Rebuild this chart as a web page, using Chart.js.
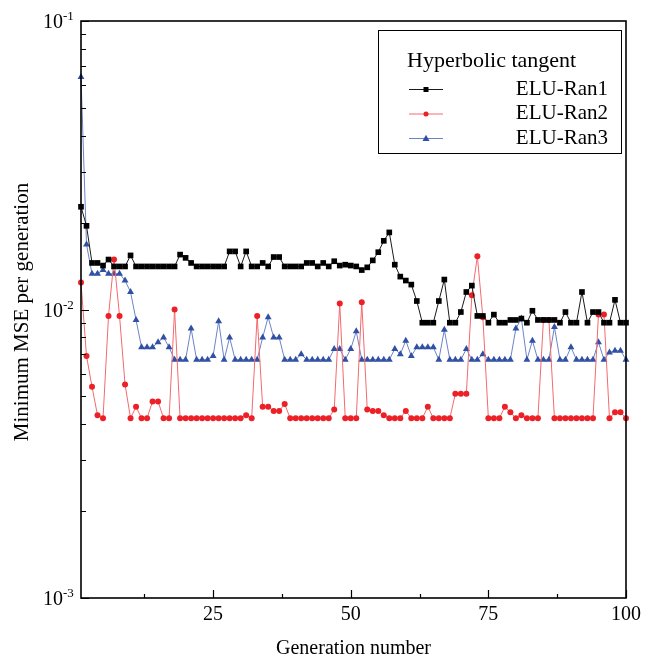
<!DOCTYPE html>
<html>
<head>
<meta charset="utf-8">
<script src="https://cdn.jsdelivr.net/npm/chart.js@4"></script>
<style>
    body { margin: 0; background: #fff; }
    canvas { display: block; }
</style>
</head>
<body>
<canvas id="mseChart" width="653" height="659"></canvas>
<script>
const generations = Array.from({length: 100}, (_, i) => i + 1);

const eluRan1 = [
    0.0227, 0.0195, 0.0145, 0.0145, 0.0142, 0.0149, 0.0141, 0.0141, 0.0141, 0.0154,
    0.0141, 0.0141, 0.0141, 0.0141, 0.0141, 0.0141, 0.0141, 0.0141, 0.0155, 0.0151,
    0.0145, 0.0141, 0.0141, 0.0141, 0.0141, 0.0141, 0.0141, 0.0159, 0.0159, 0.0141,
    0.0159, 0.0141, 0.0141, 0.0145, 0.0141, 0.0152, 0.0152, 0.0141, 0.0141, 0.0141,
    0.0141, 0.0145, 0.0145, 0.0141, 0.0145, 0.0141, 0.0147, 0.0142, 0.0143, 0.0142,
    0.0141, 0.0137, 0.0140, 0.0148, 0.0158, 0.0173, 0.0185, 0.0143, 0.0130, 0.0126,
    0.0122, 0.0107, 0.0090, 0.0090, 0.0090, 0.0107, 0.0127, 0.0090, 0.0090, 0.0098,
    0.0115, 0.0121, 0.0095, 0.0095, 0.0090, 0.0096, 0.0090, 0.0090, 0.0092, 0.0092,
    0.0093, 0.0090, 0.0099, 0.0092, 0.0092, 0.0092, 0.0092, 0.0090, 0.0098, 0.0090,
    0.0090, 0.0115, 0.0090, 0.0098, 0.0098, 0.0090, 0.0090, 0.0108, 0.0090, 0.0090
];

const eluRan2 = [
    0.0124, 0.0069, 0.0054, 0.0043, 0.0042, 0.0095, 0.0149, 0.0095, 0.0055, 0.0042,
    0.0046, 0.0042, 0.0042, 0.0048, 0.0048, 0.0042, 0.0042, 0.0100, 0.0042, 0.0042,
    0.0042, 0.0042, 0.0042, 0.0042, 0.0042, 0.0042, 0.0042, 0.0042, 0.0042, 0.0042,
    0.0043, 0.0042, 0.0095, 0.0046, 0.0046, 0.00445, 0.00445, 0.0047, 0.0042, 0.0042,
    0.0042, 0.0042, 0.0042, 0.0042, 0.0042, 0.0042, 0.0045, 0.0105, 0.0042, 0.0042,
    0.0042, 0.0106, 0.0045, 0.00445, 0.00445, 0.0043, 0.0042, 0.0042, 0.0042, 0.00445,
    0.0042, 0.0042, 0.0042, 0.0046, 0.0042, 0.0042, 0.0042, 0.0042, 0.0051, 0.0051,
    0.0051, 0.0112, 0.0153, 0.0094, 0.0042, 0.0042, 0.0042, 0.0046, 0.0044, 0.0042,
    0.0043, 0.0042, 0.0042, 0.0042, 0.0092, 0.0092, 0.0042, 0.0042, 0.0042, 0.0042,
    0.0042, 0.0042, 0.0042, 0.0042, 0.0096, 0.0096, 0.0042, 0.0044, 0.0044, 0.0042
];

const eluRan3 = [
    0.0640, 0.0168, 0.0133, 0.0133, 0.0137, 0.0133, 0.0133, 0.0133, 0.0126, 0.0115,
    0.0092, 0.0074, 0.0074, 0.0074, 0.0077, 0.0080, 0.0074, 0.0067, 0.0067, 0.0067,
    0.0086, 0.0067, 0.0067, 0.0067, 0.0069, 0.0091, 0.0067, 0.0080, 0.0067, 0.0067,
    0.0067, 0.0067, 0.0067, 0.0080, 0.0094, 0.0080, 0.0080, 0.0067, 0.0067, 0.0067,
    0.0070, 0.0067, 0.0067, 0.0067, 0.0067, 0.0067, 0.0073, 0.0073, 0.0067, 0.0073,
    0.0084, 0.0067, 0.0067, 0.0067, 0.0067, 0.0067, 0.0067, 0.0073, 0.0070, 0.0078,
    0.0069, 0.0074, 0.0074, 0.0074, 0.0074, 0.0067, 0.0085, 0.0067, 0.0067, 0.0067,
    0.0073, 0.0067, 0.0067, 0.0070, 0.0067, 0.0067, 0.0067, 0.0067, 0.0067, 0.0086,
    0.0093, 0.0067, 0.0078, 0.0067, 0.0067, 0.0067, 0.0087, 0.0067, 0.0067, 0.0074,
    0.0067, 0.0067, 0.0067, 0.0067, 0.0077, 0.0067, 0.0071, 0.0072, 0.0072, 0.0067
];

const xTicks = [25, 50, 75, 100];
const xMinorTicks = [12.5, 37.5, 62.5, 87.5];
const yDecades = [0.001, 0.01, 0.1];
const yExponents = ['-3', '-2', '-1'];

const legendTitle = 'Hyperbolic tangent';
const seriesNames = ['ELU-Ran1', 'ELU-Ran2', 'ELU-Ran3'];

const serif = '"Liberation Serif", "Times New Roman", serif';

function toPoints(values) {
    return values.map((v, i) => ({x: generations[i], y: v}));
}

function drawMarker(ctx, style, x, y, r, color) {
    ctx.fillStyle = color;
    ctx.beginPath();
    if (style === 'rect') {
        ctx.rect(x - r, y - r, r * 2, r * 2);
    } else if (style === 'circle') {
        ctx.arc(x, y, r, 0, Math.PI * 2);
    } else {
        ctx.moveTo(x, y - r * 1.1);
        ctx.lineTo(x + r, y + r * 0.7);
        ctx.lineTo(x - r, y + r * 0.7);
        ctx.closePath();
    }
    ctx.fill();
}

const framePlugin = {
    id: 'frame',
    afterDraw(chart) {
        const ctx = chart.ctx;
        const area = chart.chartArea;
        const xs = chart.scales.x;
        const ys = chart.scales.y;

        ctx.save();
        ctx.strokeStyle = '#000';
        ctx.lineWidth = 1.6;
        ctx.strokeRect(area.left, area.top, area.right - area.left, area.bottom - area.top);

        // inward ticks
        ctx.lineWidth = 1.2;
        ctx.beginPath();
        xTicks.forEach(t => {
            const px = Math.round(xs.getPixelForValue(t)) + 0.5;
            ctx.moveTo(px, area.bottom);
            ctx.lineTo(px, area.bottom - 8);
        });
        xMinorTicks.forEach(t => {
            const px = Math.round(xs.getPixelForValue(t)) + 0.5;
            ctx.moveTo(px, area.bottom);
            ctx.lineTo(px, area.bottom - 4);
        });
        yDecades.forEach((d, k) => {
            const py = Math.round(ys.getPixelForValue(d)) + 0.5;
            ctx.moveTo(area.left, py);
            ctx.lineTo(area.left + 8, py);
            if (k < yDecades.length - 1) {
                for (let m = 2; m <= 9; m++) {
                    const pm = Math.round(ys.getPixelForValue(d * m)) + 0.5;
                    ctx.moveTo(area.left, pm);
                    ctx.lineTo(area.left + 5, pm);
                }
            }
        });
        ctx.stroke();

        // tick labels
        ctx.fillStyle = '#000';
        ctx.font = '20px ' + serif;
        ctx.textAlign = 'center';
        ctx.textBaseline = 'alphabetic';
        xTicks.forEach(t => {
            ctx.fillText(String(t), xs.getPixelForValue(t), area.bottom + 22);
        });
        yDecades.forEach((d, k) => {
            const py = ys.getPixelForValue(d);
            ctx.font = '20px ' + serif;
            ctx.textAlign = 'right';
            ctx.fillText('10', 63, py + 7);
            ctx.font = '13px ' + serif;
            ctx.textAlign = 'left';
            ctx.fillText(yExponents[k], 63, py - 1);
        });

        // axis titles
        ctx.font = '20px ' + serif;
        ctx.textAlign = 'center';
        ctx.fillText('Generation number', (area.left + area.right) / 2, 654);
        ctx.save();
        ctx.font = '21px ' + serif;
        ctx.translate(22, 312);
        ctx.rotate(-Math.PI / 2);
        ctx.textBaseline = 'middle';
        ctx.fillText('Minimum MSE per generation', 0, 0);
        ctx.restore();

        // legend
        ctx.lineWidth = 1;
        ctx.strokeRect(378.5, 30.5, 243, 123);
        ctx.font = '22px ' + serif;
        ctx.textAlign = 'left';
        ctx.textBaseline = 'middle';
        ctx.fillText(legendTitle, 407, 61);
        ctx.font = '21px ' + serif;
        const rows = [89, 113.5, 138];
        chart.data.datasets.forEach((ds, i) => {
            const y = rows[i];
            ctx.strokeStyle = ds.borderColor;
            ctx.beginPath();
            ctx.moveTo(409, y + 0.5);
            ctx.lineTo(443, y + 0.5);
            ctx.stroke();
            drawMarker(ctx, ds.pointStyle, 426, y + 0.5, ds.pointStyle === 'triangle' ? 3.5 : 2.5, ds.pointBackgroundColor);
            ctx.fillStyle = '#000';
            ctx.textAlign = 'right';
            ctx.fillText(ds.label, 608, y);
        });
        ctx.restore();
    }
};

const ctx = document.getElementById('mseChart').getContext('2d');

new Chart(ctx, {
    type: 'line',
    data: {
        datasets: [
            {
                label: seriesNames[0],
                data: toPoints(eluRan1),
                borderColor: '#1a1a1a',
                borderWidth: 1,
                pointStyle: 'rect',
                pointRadius: 4,
                pointBackgroundColor: '#000',
                pointBorderWidth: 0,
                tension: 0
            },
            {
                label: seriesNames[1],
                data: toPoints(eluRan2),
                borderColor: '#f26a6e',
                borderWidth: 1,
                pointStyle: 'circle',
                pointRadius: 3,
                pointBackgroundColor: '#ec2027',
                pointBorderWidth: 0,
                tension: 0
            },
            {
                label: seriesNames[2],
                data: toPoints(eluRan3),
                borderColor: '#6b84c6',
                borderWidth: 1,
                pointStyle: 'triangle',
                pointRadius: 4,
                pointBackgroundColor: '#3150a4',
                pointBorderWidth: 0,
                tension: 0
            }
        ]
    },
    options: {
        responsive: false,
        animation: false,
        clip: false,
        layout: {padding: {left: 0, right: 27, top: 21, bottom: 0}},
        plugins: {
            legend: {display: false},
            tooltip: {enabled: false}
        },
        scales: {
            x: {
                type: 'linear',
                min: 1,
                max: 100,
                ticks: {display: false},
                grid: {display: false},
                border: {display: false},
                afterFit: s => { s.height = 61; }
            },
            y: {
                type: 'logarithmic',
                min: 0.001,
                max: 0.1,
                ticks: {display: false},
                grid: {display: false},
                border: {display: false},
                afterFit: s => { s.width = 81; }
            }
        }
    },
    plugins: [framePlugin]
});
</script>
</body>
</html>
